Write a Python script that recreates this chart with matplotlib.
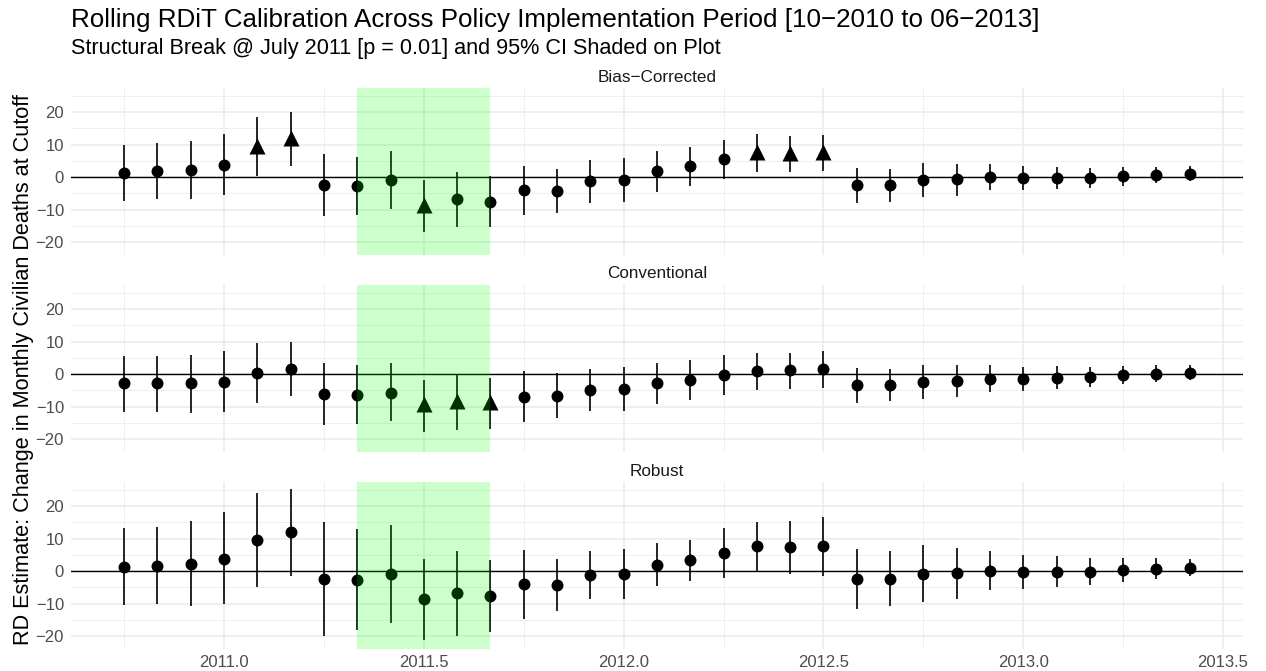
import matplotlib
matplotlib.use("Agg")
import matplotlib.pyplot as plt
import numpy as np

plt.rcParams['font.family'] = ['Liberation Sans', 'DejaVu Sans']

months = ["2010-10", "2010-11", "2010-12", "2011-01", "2011-02", "2011-03", "2011-04",
          "2011-05", "2011-06", "2011-07", "2011-08", "2011-09", "2011-10", "2011-11",
          "2011-12", "2012-01", "2012-02", "2012-03", "2012-04", "2012-05", "2012-06",
          "2012-07", "2012-08", "2012-09", "2012-10", "2012-11", "2012-12", "2013-01",
          "2013-02", "2013-03", "2013-04", "2013-05", "2013-06"]

# Bias-corrected / robust point estimates
est_bc = [1.2, 1.7, 2.3, 3.8, 9.6, 12.1, -2.5, -2.9, -0.9, -8.5, -6.9, -7.7, -4.1, -4.3,
          -1.2, -0.8, 1.8, 3.3, 5.4, 7.7, 7.3, 7.6, -2.6, -2.4, -0.8, -0.7, 0.1, -0.3,
          -0.2, -0.2, 0.2, 0.6, 1.0]
lo_bc = [-7.3, -6.9, -6.7, -5.4, 0.3, 3.5, -12.0, -11.8, -9.9, -16.8, -15.3, -15.5, -11.8, -11.2,
         -7.9, -7.7, -4.5, -2.8, -0.7, 1.6, 1.4, 1.8, -8.1, -7.6, -6.2, -5.7, -4.0, -4.1,
         -3.6, -3.3, -2.7, -1.9, -1.2]
hi_bc = [9.8, 10.4, 11.2, 13.2, 18.5, 20.1, 7.1, 6.2, 8.0, -0.9, 1.4, 0.3, 3.5, 2.6,
         5.2, 5.8, 8.0, 9.2, 11.5, 13.1, 12.6, 12.9, 2.7, 2.6, 4.3, 4.0, 4.1, 3.3,
         3.0, 2.7, 3.0, 3.0, 3.3]

# Conventional
est_cv = [-2.9, -2.9, -2.9, -2.4, 0.3, 1.4, -6.2, -6.5, -5.7, -9.3, -8.4, -8.7, -7.0, -6.7,
          -4.9, -4.6, -2.9, -1.8, -0.4, 0.9, 1.1, 1.4, -3.5, -3.4, -2.6, -2.2, -1.4, -1.4,
          -1.1, -0.8, -0.4, 0.1, 0.4]
lo_cv = [-11.6, -11.6, -12.0, -11.7, -8.8, -6.9, -15.6, -15.3, -14.6, -17.7, -17.2, -16.9, -14.8, -13.6,
         -11.5, -11.5, -9.3, -8.0, -6.6, -4.9, -4.6, -4.2, -8.9, -8.4, -7.7, -7.1, -5.5, -5.2,
         -4.5, -3.9, -3.1, -2.5, -1.7]
hi_cv = [5.7, 5.7, 6.0, 7.0, 9.4, 9.8, 3.5, 2.7, 3.3, -1.7, -0.3, -1.2, 0.8, 0.2,
         1.7, 2.1, 3.4, 4.3, 5.8, 6.6, 6.6, 7.1, 1.9, 1.7, 2.8, 2.8, 2.7, 2.2,
         2.4, 2.2, 2.4, 2.8, 2.8]

# Robust
est_rb = est_bc
lo_rb = [-10.6, -10.1, -10.8, -10.2, -5.0, -1.4, -19.9, -18.2, -15.9, -21.2, -19.9, -18.7, -14.8, -12.3,
         -8.6, -8.6, -4.6, -3.1, -2.3, -0.2, -1.0, -1.5, -11.7, -10.9, -9.5, -8.6, -5.8, -5.6,
         -4.8, -4.3, -3.3, -2.5, -1.6]
hi_rb = [13.1, 13.7, 15.3, 18.1, 23.9, 25.2, 15.1, 12.8, 14.1, 3.8, 6.1, 3.5, 6.6, 3.8,
         6.3, 6.9, 8.5, 9.7, 13.2, 15.0, 15.3, 16.5, 6.8, 6.1, 7.9, 7.2, 6.3, 5.0,
         4.5, 3.9, 3.9, 3.9, 3.6]

panel_names = ["Bias\u2212Corrected", "Conventional", "Robust"]
shade_start, shade_end = "2011-05", "2011-09"

y_ticks = [-20, -10, 0, 10, 20]
y_ticklabels = ["\u221220", "\u221210", "0", "10", "20"]
x_ticks = [2011.0, 2011.5, 2012.0, 2012.5, 2013.0, 2013.5]
x_ticklabels = ["2011.0", "2011.5", "2012.0", "2012.5", "2013.0", "2013.5"]

title = "Rolling RDiT Calibration Across Policy Implementation Period [10\u22122010 to 06\u22122013]"
subtitle = "Structural Break @ July 2011 [p = 0.01] and 95% CI Shaded on Plot"
ylabel = "RD Estimate: Change in Monthly Civilian Deaths at Cutoff"


def dec(m):
    y, mo = m.split("-")
    return int(y) + (int(mo) - 1) / 12.0


x = np.array([dec(m) for m in months])
panels = [(est_bc, lo_bc, hi_bc), (est_cv, lo_cv, hi_cv), (est_rb, lo_rb, hi_rb)]

fig = plt.figure(figsize=(12.66, 6.71), dpi=100)
W, H = 1266, 671
left, right = 71 / W, 1243 / W
tops = [88, 285, 482]
ph = 167

ylim = (-24.0, 27.4)
xlim = (2010.617, 2013.55)

for i, (name, (est, lo, hi)) in enumerate(zip(panel_names, panels)):
    top = tops[i]
    ax = fig.add_axes([left, 1 - (top + ph) / H, right - left, ph / H])
    ax.set_xlim(*xlim)
    ax.set_ylim(*ylim)
    for s in ax.spines.values():
        s.set_visible(False)
    ax.set_yticks(y_ticks)
    ax.set_yticks([-15, -5, 5, 15, 25], minor=True)
    ax.set_xticks(x_ticks)
    ax.set_xticks([2010.75, 2011.25, 2011.75, 2012.25, 2012.75, 2013.25], minor=True)
    ax.grid(True, which="major", color="#EBEBEB", lw=1.1, zorder=0)
    ax.grid(True, which="minor", color="#EDEDED", lw=0.6, zorder=0)
    ax.tick_params(which="both", length=0)
    ax.set_yticklabels(y_ticklabels, color="#4D4D4D", fontsize=12)
    if i < 2:
        ax.set_xticklabels([])
    else:
        ax.set_xticklabels(x_ticklabels, color="#4D4D4D", fontsize=12)
    ax.tick_params(axis="y", pad=5)
    ax.tick_params(axis="x", pad=4)
    ax.axhline(0, color="black", lw=1.0, zorder=2)
    est = np.array(est); lo = np.array(lo); hi = np.array(hi)
    ax.vlines(x, lo, hi, color="black", lw=1.2, zorder=3)
    sig = (lo > 0) | (hi < 0)
    ax.plot(x[~sig], est[~sig], "o", color="black", ms=8.6, zorder=4, mec="none")
    ax.plot(x[sig], est[sig], "^", color="black", ms=11, zorder=4, mec="none")
    ax.axvspan(dec(shade_start), dec(shade_end), color=(0, 1, 0), alpha=0.2, lw=0, zorder=5)
    fig.text((left + right) / 2, 1 - (top - 11) / H, name, ha="center", va="center",
             fontsize=12.3, color="#1A1A1A")

fig.text(71 / W, 1 - 27 / H, title, fontsize=18.7, ha="left", va="baseline", color="black")
fig.text(71 / W, 1 - 54 / H, subtitle, fontsize=15.6, ha="left", va="baseline", color="black")
fig.text(24 / W, 1 - 370 / H, ylabel, rotation=90, fontsize=15.6, ha="center", va="center",
         color="black")

fig.savefig("out.png", dpi=100)
